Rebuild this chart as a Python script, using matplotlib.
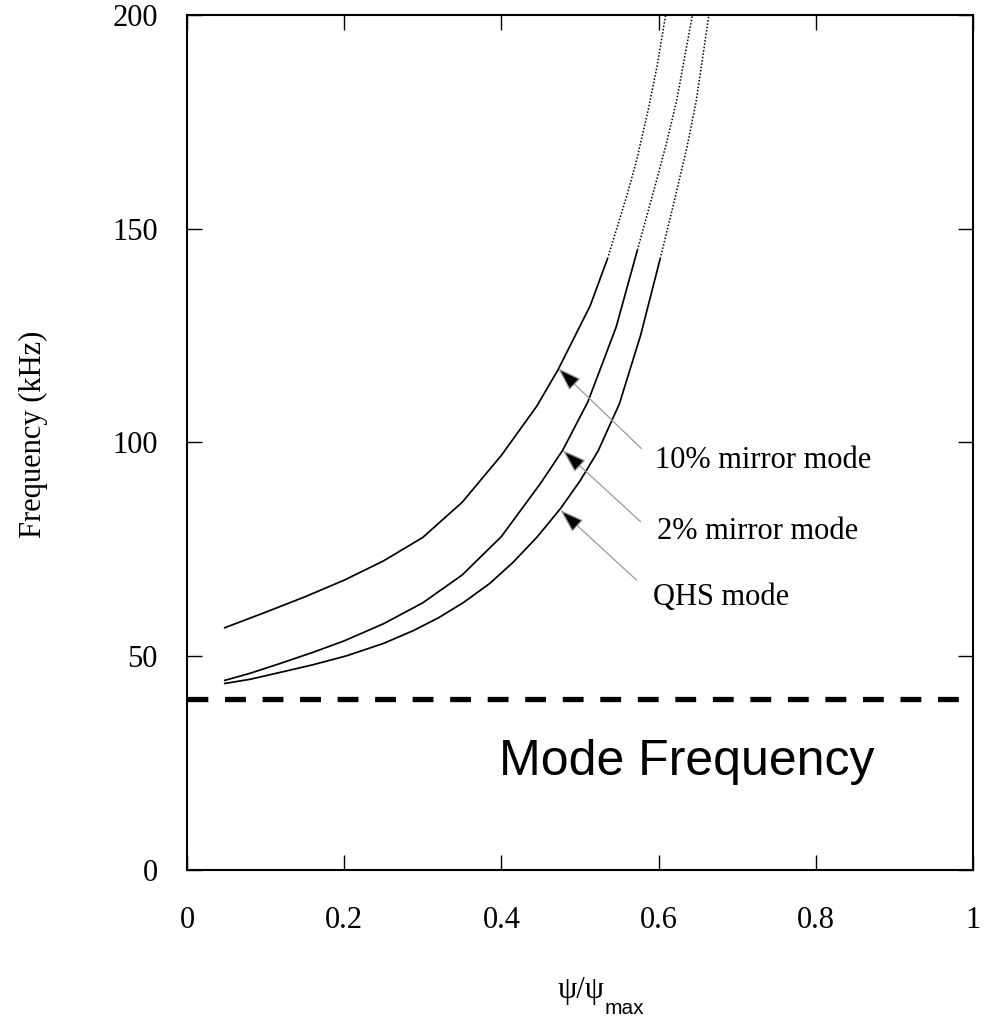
import numpy as np
import matplotlib
matplotlib.use("Agg")
import matplotlib.pyplot as plt

# ---- data ----
psi_10 = [0.047, 0.10, 0.15, 0.20, 0.25, 0.30, 0.35, 0.40, 0.445, 0.472, 0.513, 0.535, 0.56, 0.572, 0.587, 0.598, 0.609]
freq_10 = [56.6, 60.3, 63.9, 67.8, 72.3, 77.8, 86.0, 97.0, 108.5, 117.0, 132.0, 143.0, 158.0, 166.0, 178.0, 188.0, 200.0]

psi_2 = [0.047, 0.08, 0.12, 0.16, 0.20, 0.25, 0.30, 0.35, 0.40, 0.45, 0.478, 0.51, 0.546, 0.573, 0.594, 0.610, 0.623, 0.643]
freq_2 = [44.3, 46.0, 48.4, 50.9, 53.6, 57.6, 62.5, 69.0, 78.0, 90.5, 98.2, 109.5, 127.0, 145.0, 159.0, 170.0, 180.0, 200.0]

psi_qhs = [0.047, 0.08, 0.118, 0.16, 0.203, 0.25, 0.288, 0.32, 0.352, 0.385, 0.415, 0.445, 0.475, 0.50, 0.523, 0.55, 0.577, 0.602, 0.62, 0.636, 0.648, 0.664]
freq_qhs = [43.6, 44.6, 46.2, 48.0, 50.1, 53.0, 56.0, 59.0, 62.6, 67.0, 72.0, 77.8, 84.5, 91.0, 98.0, 109.0, 125.0, 143.0, 156.5, 169.0, 180.0, 200.0]

dotted_above = 140.0   # curves drawn dotted above this frequency
mode_frequency = 40.0

labels = ["10% mirror mode", "2% mirror mode", "QHS mode"]
arrow_heads = [(0.472, 117.4), (0.478, 98.2), (0.475, 84.2)]
arrow_tails = [(0.578, 98.6), (0.577, 81.5), (0.572, 67.8)]
label_pos = [(0.5954, 94.0), (0.5975, 77.4), (0.5933, 62.0)]

x_ticks = [0, 0.2, 0.4, 0.6, 0.8, 1]
x_ticklabels = ["0", "0.2", "0.4", "0.6", "0.8", "1"]
y_ticks = [0, 50, 100, 150, 200]

SERIF = ["Liberation Serif", "DejaVu Serif"]
SANS = ["Liberation Sans", "DejaVu Sans"]

fig = plt.figure(figsize=(9.87, 10.17), dpi=100)
ax = fig.add_axes([187 / 987, 1 - 870 / 1017, (973 - 187) / 987, (870 - 15) / 1017])

for xs, fs in [(psi_10, freq_10), (psi_2, freq_2), (psi_qhs, freq_qhs)]:
    xs = np.asarray(xs)
    fs = np.asarray(fs)
    k = int(np.searchsorted(fs, dotted_above))
    ax.plot(xs[:k + 1], fs[:k + 1], color="black", lw=1.25, solid_capstyle="butt",
            solid_joinstyle="round")
    ax.plot(xs[k:], fs[k:], color="black", lw=1.1, ls=(0, (1, 1.2)))

ax.axhline(mode_frequency, color="black", lw=3.8, ls=(0, (3.95, 3.16)), dash_capstyle="butt")

for lab, head, tail, pos in zip(labels, arrow_heads, arrow_tails, label_pos):
    ax.annotate("", xy=head, xytext=tail,
                arrowprops=dict(arrowstyle="-|>,head_length=0.75,head_width=0.25",
                                mutation_scale=20, fc="black", ec="#9a9a9a", lw=0.9,
                                shrinkA=0, shrinkB=0))
    ax.text(pos[0], pos[1], lab, family=SERIF, fontsize=22, ha="left", va="baseline")

ax.text(0.397, 22.2, "Mode Frequency", family=SANS, fontsize=36, ha="left", va="baseline")

ax.set_xlim(0, 1)
ax.set_ylim(0, 200)
ax.set_xticks(x_ticks)
ax.set_xticklabels(x_ticklabels)
ax.set_yticks(y_ticks)
for lbl in ax.get_xticklabels() + ax.get_yticklabels():
    lbl.set_family(SERIF)
    lbl.set_fontsize(22)
ax.tick_params(axis="both", direction="in", length=10.8, width=1.0, top=True, right=True)
ax.tick_params(axis="x", pad=26)
ax.tick_params(axis="y", pad=21)
for sp in ax.spines.values():
    sp.set_linewidth(1.5)

fig.text(33 / 987, 1 - 434 / 1017, "Frequency (kHz)", family=SERIF, fontsize=22,
         rotation=90, ha="center", va="center")
fig.text(605 / 987, 1 - 998 / 1017, "ψ/ψ", family=SERIF, fontsize=22, ha="right", va="baseline")
fig.text(605 / 987, 1 - 1014 / 1017, "max", family=SANS, fontsize=15, ha="left", va="baseline")

fig.savefig("out.png", dpi=100)
